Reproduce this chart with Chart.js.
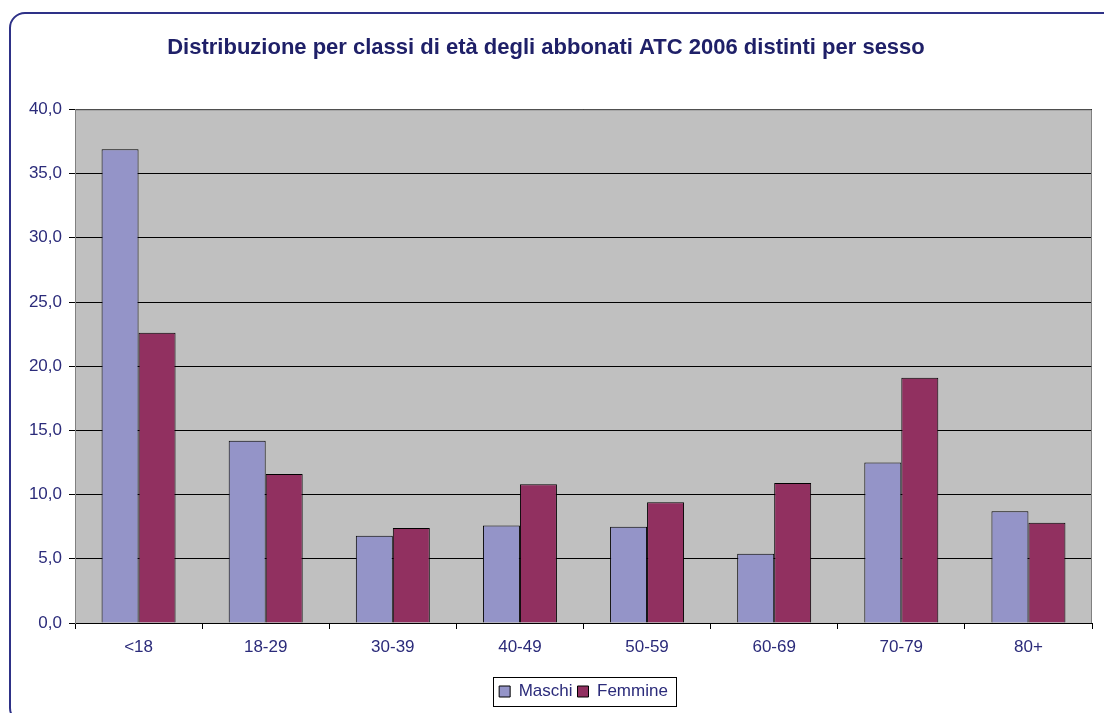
<!DOCTYPE html>
<html>
<head>
<meta charset="utf-8">
<script src="https://cdn.jsdelivr.net/npm/chart.js@4.4.1/dist/chart.umd.min.js"></script>
<style>
  html, body { margin: 0; padding: 0; background: #fff; overflow: hidden; }
  #frame { position: absolute; left: 9px; top: 12px; width: 1120px; height: 712px;
           border: 2px solid #2e3187; border-radius: 16px; box-sizing: border-box; }
  #wrap { position: absolute; left: 0; top: 0; width: 1104px; height: 713px; }
</style>
</head>
<body>
<div id="frame"></div>
<div id="wrap"><canvas id="barChart" width="1104" height="713"></canvas></div>
<script>
// dati (percentuali)
var classi = ['<18', '18-29', '30-39', '40-49', '50-59', '60-69', '70-79', '80+'];
var maschi = [36.9, 14.2, 6.8, 7.6, 7.5, 5.4, 12.5, 8.7];
var femmine = [22.6, 11.6, 7.4, 10.8, 9.4, 10.9, 19.1, 7.8];
var yTicks = [0, 5, 10, 15, 20, 25, 30, 35, 40];

var testo = '#2b2b7a';

// sfondo grigio e bordo dell'area del grafico + riquadro legenda
var sfondoPlot = {
    id: 'sfondoPlot',
    beforeDraw: function(chart) {
        var a = chart.chartArea, ctx = chart.ctx;
        ctx.save();
        ctx.fillStyle = '#c0c0c0';
        ctx.fillRect(a.left, a.top, a.right - a.left, a.bottom - a.top);
        ctx.restore();
    },
    afterDraw: function(chart) {
        var a = chart.chartArea, ctx = chart.ctx;
        ctx.save();
        ctx.strokeStyle = '#808080';
        ctx.lineWidth = 1;
        ctx.beginPath();
        ctx.moveTo(a.left, a.top + 0.5);
        ctx.lineTo(a.right - 0.5, a.top + 0.5);
        ctx.lineTo(a.right - 0.5, a.bottom);
        ctx.stroke();
        var hb = chart.legend.legendHitBoxes;
        if (hb && hb.length) {
            var x0 = hb[0].left - 6, x1 = hb[hb.length - 1].left + hb[hb.length - 1].width + 8;
            var y0 = hb[0].top - 6, y1 = hb[0].top + hb[0].height + 6;
            ctx.strokeStyle = '#000';
            ctx.strokeRect(Math.round(x0) + 0.5, Math.round(y0) + 0.5, Math.round(x1 - x0), Math.round(y1 - y0));
        }
        ctx.restore();
    }
};

var ctxB = document.getElementById('barChart').getContext('2d');
var myBarChart = new Chart(ctxB, {
    type: 'bar',
    data: {
        labels: classi,
        datasets: [{
            label: 'Maschi',
            data: maschi,
            backgroundColor: '#9494c8',
            borderColor: '#000',
            borderWidth: 1,
            borderSkipped: 'bottom'
        },
        {
            label: 'Femmine',
            data: femmine,
            backgroundColor: '#913060',
            borderColor: '#000',
            borderWidth: 1,
            borderSkipped: 'bottom'
        }]
    },
    options: {
        responsive: false,
        animation: false,
        categoryPercentage: 0.582,
        barPercentage: 1,
        layout: { padding: { left: 0, right: 12, top: 0, bottom: 3 } },
        plugins: {
            title: {
                display: true,
                text: 'Distribuzione per classi di età degli abbonati ATC 2006 distinti per sesso',
                color: '#1f2068',
                font: { family: 'Liberation Sans, Arial', size: 22, weight: 'bold' },
                padding: { top: 35, bottom: 48 }
            },
            legend: {
                position: 'bottom',
                fullSize: false,
                labels: {
                    color: testo,
                    font: { family: 'Liberation Sans, Arial', size: 17 },
                    boxWidth: 11,
                    boxHeight: 11,
                    padding: 5
                }
            },
            tooltip: { enabled: false }
        },
        scales: {
            x: {
                grid: { drawOnChartArea: false, drawTicks: true, tickLength: 6, offset: true, color: '#000' },
                border: { color: '#000' },
                ticks: { color: testo, font: { family: 'Liberation Sans, Arial', size: 17 }, padding: 8 },
                afterFit: function(s) { s.height = 55; }
            },
            y: {
                min: 0,
                max: 40,
                afterBuildTicks: function(s) { s.ticks = yTicks.map(function(v) { return { value: v }; }); },
                grid: { color: '#000', drawTicks: true, tickLength: 6 },
                border: { color: '#808080' },
                ticks: {
                    color: testo,
                    font: { family: 'Liberation Sans, Arial', size: 17 },
                    padding: 7,
                    callback: function(v) { return v.toFixed(1).replace('.', ','); }
                },
                afterFit: function(s) { s.width = 75; }
            }
        }
    },
    plugins: [sfondoPlot]
});
</script>
</body>
</html>
